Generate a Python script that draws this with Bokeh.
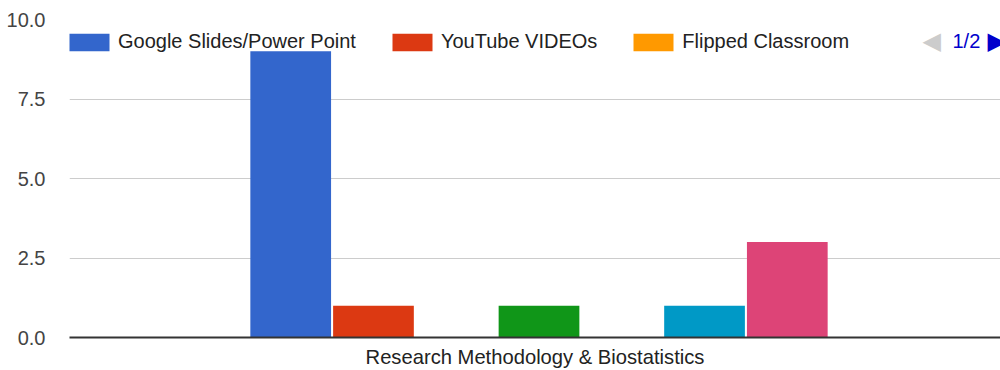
from bokeh.plotting import figure
from bokeh.models import (ColumnDataSource, FactorRange, Range1d, Legend, LegendItem,
                          Label, FixedTicker, CustomJSTickFormatter)
from bokeh.transform import dodge
from bokeh.embed import file_html
from bokeh.resources import INLINE

# ---- data ----
category = ["Research Methodology & Biostatistics"]
series_names = ["Google Slides/Power Point", "YouTube VIDEOs", "Flipped Classroom"]  # legend page 1/2
series_values = [9, 1, 0, 1, 0, 1, 3]
series_colors = ["#3366cc", "#dc3912", "#ff9900", "#109618", "#990099", "#0099c6", "#dd4477"]
y_ticks = [0, 2.5, 5, 7.5, 10]
pager_text = "1/2"

FONT = "Liberation Sans"

p = figure(width=1000, height=370, output_backend="svg", toolbar_location=None,
           x_range=FactorRange(factors=category, range_padding=0),
           y_range=Range1d(0, 10),
           min_border_left=69, min_border_right=0, min_border_top=19, min_border_bottom=33)
p.outline_line_color = None
p.background_fill_color = "white"
p.border_fill_color = "white"

slot = 0.0889
bar_w = 0.0867
shift = 0.0043
n = len(series_values)
renderers = []
for i, (v, c) in enumerate(zip(series_values, series_colors)):
    src = ColumnDataSource(dict(cat=category, v=[v]))
    off = shift + (i - (n - 1) / 2) * slot
    r = p.vbar(x=dodge("cat", off, range=p.x_range), top="v", width=bar_w,
               source=src, fill_color=c, line_color=None)
    renderers.append(r)

# axes
p.yaxis.ticker = FixedTicker(ticks=y_ticks)
p.yaxis.formatter = CustomJSTickFormatter(code="return tick.toFixed(1);")
p.yaxis.axis_line_color = None
p.yaxis.major_tick_line_color = None
p.yaxis.minor_tick_line_color = None
p.yaxis.major_label_standoff = 18
p.yaxis.major_label_text_font = FONT
p.yaxis.major_label_text_font_size = "20px"
p.yaxis.major_label_text_color = "#444444"

p.xaxis.axis_line_color = "#333333"
p.xaxis.axis_line_width = 2
p.xaxis.major_tick_line_color = None
p.xaxis.minor_tick_line_color = None
p.xaxis.major_label_standoff = 2
p.xaxis.major_label_text_font = FONT
p.xaxis.major_label_text_font_size = "20.2px"
p.xaxis.major_label_text_color = "#222222"

p.xgrid.grid_line_color = None
p.ygrid.grid_line_color = "#cccccc"
p.ygrid.grid_line_width = 1

# legend (page 1 of 2)
items = [LegendItem(label=series_names[i], renderers=[renderers[i]]) for i in range(len(series_names))]
legend = Legend(items=items, orientation="horizontal", location=(-5, 284),
                glyph_width=50, glyph_height=22, label_height=22, label_standoff=4,
                spacing=31, padding=0, margin=0,
                border_line_color=None, background_fill_alpha=0,
                label_text_font=FONT, label_text_font_size="20px",
                label_text_color="#222222")
p.add_layout(legend)

# pager
p.add_layout(Label(x=853, y=297, x_units="screen", y_units="screen", text="◀",
                   text_font="DejaVu Sans", text_font_size="24px", text_color="#cccccc",
                   text_baseline="middle", text_align="left"))
p.add_layout(Label(x=883, y=297, x_units="screen", y_units="screen", text=pager_text,
                   text_font=FONT, text_font_size="20px", text_color="#0000cc",
                   text_baseline="middle", text_align="left"))
p.add_layout(Label(x=918, y=297, x_units="screen", y_units="screen", text="▶",
                   text_font="DejaVu Sans", text_font_size="24px", text_color="#0000cc",
                   text_baseline="middle", text_align="left"))

open("out.html", "w").write(file_html(p, INLINE))
